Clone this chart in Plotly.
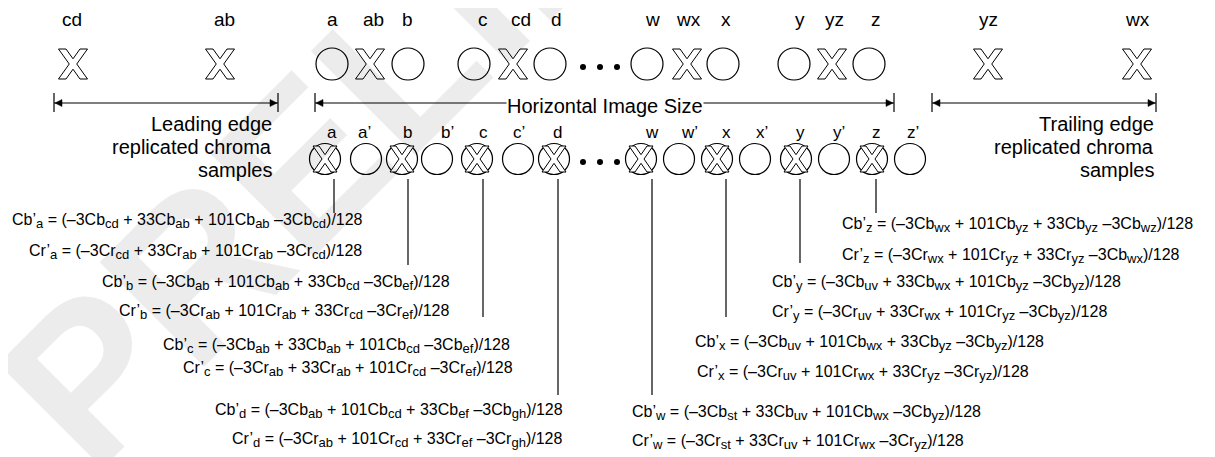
import plotly.graph_objects as go

W, H = 1215, 457
OFF = 8  # page body margin compensation: data coordinates == page pixels
FONT = "Liberation Sans, Arial, sans-serif"

# ---------------- data ----------------
top_labels = ["cd", "ab", "a", "ab", "b", "c", "cd", "d", "w", "wx", "x", "y", "yz", "z", "yz", "wx"]
top_kinds = ["X", "X", "O", "X", "O", "O", "X", "O", "O", "X", "O", "O", "X", "O", "X", "X"]
top_glyph_x = [73, 220, 332, 370, 408, 474, 513, 550, 647, 687, 723, 794, 832, 869, 988, 1137]
top_label_x = [72, 224, 332, 373, 407, 483, 521, 556, 652, 688, 726, 800, 834, 876, 988, 1137]

bottom_labels = ["a", "a’", "b", "b’", "c", "c’", "d", "w", "w’", "x", "x’", "y", "y’", "z", "z’"]
bottom_kinds = ["XO", "O", "XO", "O", "XO", "O", "XO", "XO", "O", "XO", "O", "XO", "O", "XO", "O"]
bottom_glyph_x = [325, 366, 402, 437, 477, 518, 554, 641, 679, 717, 755, 796, 834, 872, 910]
bottom_label_x = [332, 364, 407, 447, 483, 519, 557, 652, 689, 726, 762, 800, 839, 876, 913]

dots_x = [583, 600, 617]

leader_x = [334, 408, 483, 558, 652, 726, 800, 876]
leader_end = [213, 265, 317, 395, 395, 317, 263, 213]

# formulas: (component, target, [(coef, comp, sub), ...])
formula_terms = [
    ("Cb", "a", [("–3", "Cb", "cd"), ("33", "Cb", "ab"), ("101", "Cb", "ab"), ("–3", "Cb", "cd")]),
    ("Cr", "a", [("–3", "Cr", "cd"), ("33", "Cr", "ab"), ("101", "Cr", "ab"), ("–3", "Cr", "cd")]),
    ("Cb", "b", [("–3", "Cb", "ab"), ("101", "Cb", "ab"), ("33", "Cb", "cd"), ("–3", "Cb", "ef")]),
    ("Cr", "b", [("–3", "Cr", "ab"), ("101", "Cr", "ab"), ("33", "Cr", "cd"), ("–3", "Cr", "ef")]),
    ("Cb", "c", [("–3", "Cb", "ab"), ("33", "Cb", "ab"), ("101", "Cb", "cd"), ("–3", "Cb", "ef")]),
    ("Cr", "c", [("–3", "Cr", "ab"), ("33", "Cr", "ab"), ("101", "Cr", "cd"), ("–3", "Cr", "ef")]),
    ("Cb", "d", [("–3", "Cb", "ab"), ("101", "Cb", "cd"), ("33", "Cb", "ef"), ("–3", "Cb", "gh")]),
    ("Cr", "d", [("–3", "Cr", "ab"), ("101", "Cr", "cd"), ("33", "Cr", "ef"), ("–3", "Cr", "gh")]),
    ("Cb", "z", [("–3", "Cb", "wx"), ("101", "Cb", "yz"), ("33", "Cb", "yz"), ("–3", "Cb", "wz")]),
    ("Cr", "z", [("–3", "Cr", "wx"), ("101", "Cr", "yz"), ("33", "Cr", "yz"), ("–3", "Cb", "wx")]),
    ("Cb", "y", [("–3", "Cb", "uv"), ("33", "Cb", "wx"), ("101", "Cb", "yz"), ("–3", "Cb", "yz")]),
    ("Cr", "y", [("–3", "Cr", "uv"), ("33", "Cr", "wx"), ("101", "Cr", "yz"), ("–3", "Cb", "yz")]),
    ("Cb", "x", [("–3", "Cb", "uv"), ("101", "Cb", "wx"), ("33", "Cb", "yz"), ("–3", "Cb", "yz")]),
    ("Cr", "x", [("–3", "Cr", "uv"), ("101", "Cr", "wx"), ("33", "Cr", "yz"), ("–3", "Cr", "yz")]),
    ("Cb", "w", [("–3", "Cb", "st"), ("33", "Cb", "uv"), ("101", "Cb", "wx"), ("–3", "Cb", "yz")]),
    ("Cr", "w", [("–3", "Cr", "st"), ("33", "Cr", "uv"), ("101", "Cr", "wx"), ("–3", "Cr", "yz")]),
]
formula_divisor = 128
formula_x = [10, 27, 100, 117, 161, 181, 213, 230, 840, 840, 770, 770, 693, 695, 630, 630]
formula_y = [221, 252, 283, 312, 346, 369, 411, 440, 225, 256, 283, 313, 343, 373, 413, 442]

edge_lines = ["Leading edge", "replicated chroma", "samples"]
trail_lines = ["Trailing edge", "replicated chroma", "samples"]
edge_y = [124, 147, 170]
span_title = "Horizontal Image Size"
spans = [(54, 278), (315, 894), (932, 1156)]
watermark = "PRELIMINARY"

# ---------------- geometry helpers ----------------
TOP_Y, BOT_Y = 64, 159
LINE = dict(color="black", width=1.2)
SUB_PX = 13


def sub(s):
    return f"<sub><span style='font-size:{SUB_PX}px'>{s}</span></sub>"


def formula(comp, tgt, terms):
    parts = []
    for i, (coef, c, s) in enumerate(terms):
        sep = "" if i == 0 else (" " if coef.startswith("–") else " + ")
        parts.append(f"{sep}{coef}{c}{sub(s)}")
    return f"{comp}’{sub(tgt)} = (" + "".join(parts) + f")/{formula_divisor}"


def x_path(cx, cy, h, v, a):
    n = v * a / (2 * h - a)
    pts = [(-h, -v), (-h + a, -v), (0, -n), (h - a, -v), (h, -v), (a / 2, 0),
           (h, v), (h - a, v), (0, n), (-h + a, v), (-h, v), (-a / 2, 0)]
    return "M " + " L ".join(f"{cx + px:.2f},{cy + py:.2f}" for px, py in pts) + " Z"


def circle(cx, cy, r):
    return dict(type="circle", xref="x", yref="y", x0=cx - r, x1=cx + r, y0=cy - r, y1=cy + r,
                line=LINE, fillcolor="white")


def paper_x(px):
    return (px - OFF) / W


def paper_y(py):
    return 1 - (py - OFF) / H


shapes = []
annotations = []

# watermark (semi-transparent so diagram lines stay black)
annotations.append(dict(text="<b>" + watermark + "</b>", x=paper_x(560), y=paper_y(-95),
                        xref="paper", yref="paper", xanchor="center", yanchor="middle",
                        showarrow=False, textangle=-45,
                        font=dict(family=FONT, size=215, color="rgba(0,0,0,0.075)")))

# top row
for lab, kind, gx, lx in zip(top_labels, top_kinds, top_glyph_x, top_label_x):
    if kind == "O":
        shapes.append(circle(gx, TOP_Y, 16))
    else:
        shapes.append(dict(type="path", path=x_path(gx, TOP_Y, 14.5, 15, 7.5),
                           line=dict(color="black", width=1), fillcolor="white"))
    annotations.append(dict(text=lab, x=lx, y=19, xref="x", yref="y", showarrow=False,
                            font=dict(family=FONT, size=19, color="black")))

# bottom row
for lab, kind, gx, lx in zip(bottom_labels, bottom_kinds, bottom_glyph_x, bottom_label_x):
    shapes.append(circle(gx, BOT_Y, 15.5))
    if kind == "XO":
        shapes.append(dict(type="path", path=x_path(gx, BOT_Y, 12, 13, 6),
                           line=dict(color="black", width=1), fillcolor="white"))
    annotations.append(dict(text=lab, x=lx, y=132, xref="x", yref="y", showarrow=False,
                            font=dict(family=FONT, size=17, color="black")))

# leader lines
for lx, le in zip(leader_x, leader_end):
    shapes.append(dict(type="line", x0=lx, x1=lx, y0=179, y1=le, line=LINE))

# dimension arrows
for x0, x1 in spans:
    shapes.append(dict(type="line", x0=x0, x1=x1, y0=103, y1=103, line=LINE))
    for xe, d in ((x0, 1), (x1, -1)):
        shapes.append(dict(type="line", x0=xe, x1=xe, y0=93, y1=112, line=LINE))
        shapes.append(dict(type="path",
                           path=f"M {xe + d * 1},103 L {xe + d * 8},99.5 L {xe + d * 8},106.5 Z",
                           line=dict(color="black", width=0.5), fillcolor="black"))

annotations.append(dict(text=span_title, x=605, y=106, xref="x", yref="y", showarrow=False,
                        bgcolor="white", borderpad=0,
                        font=dict(family=FONT, size=20, color="black")))

for txt, yy in zip(edge_lines, edge_y):
    annotations.append(dict(text=txt, x=274, y=yy, xref="x", yref="y", xanchor="right",
                            showarrow=False, font=dict(family=FONT, size=20, color="black")))
for txt, yy in zip(trail_lines, edge_y):
    annotations.append(dict(text=txt, x=1156, y=yy, xref="x", yref="y", xanchor="right",
                            showarrow=False, font=dict(family=FONT, size=20, color="black")))

# formulas
for (comp, tgt, terms), fx, fy in zip(formula_terms, formula_x, formula_y):
    annotations.append(dict(text=formula(comp, tgt, terms), x=fx, y=fy, xref="x", yref="y",
                            xanchor="left", yanchor="middle", showarrow=False,
                            font=dict(family=FONT, size=16, color="black")))

fig = go.Figure()
fig.add_trace(go.Scatter(x=dots_x, y=[67] * 3, mode="markers",
                         marker=dict(size=6, color="black"), hoverinfo="skip", showlegend=False))
fig.add_trace(go.Scatter(x=dots_x, y=[162] * 3, mode="markers",
                         marker=dict(size=6, color="black"), hoverinfo="skip", showlegend=False))

fig.update_layout(
    width=W, height=H, margin=dict(l=0, r=0, t=0, b=0),
    paper_bgcolor="white", plot_bgcolor="white",
    xaxis=dict(range=[OFF, W + OFF], visible=False, fixedrange=True),
    yaxis=dict(range=[H + OFF, OFF], visible=False, fixedrange=True),
    shapes=shapes, annotations=annotations, showlegend=False,
)
fig.write_html("out.html")
